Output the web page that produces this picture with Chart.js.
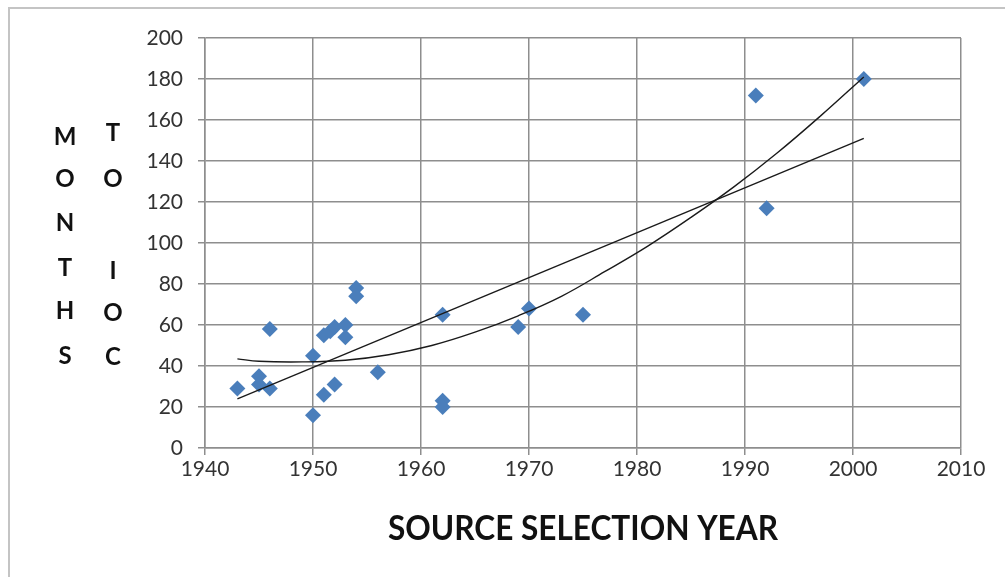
<!DOCTYPE html>
<html>
<head>
<meta charset="utf-8">
<script src="https://cdn.jsdelivr.net/npm/chart.js@4/dist/chart.umd.min.js"></script>
<style>
  html, body { margin: 0; padding: 0; background: #ffffff; }
  #wrap { width: 1005px; height: 577px; }
</style>
</head>
<body>
<div id="wrap"><canvas id="grafico" width="1005" height="577"></canvas></div>
<script>
// datos
const years  = [1943, 1945, 1945, 1946, 1946, 1950, 1950, 1951, 1951, 1951.6, 1952, 1952, 1953, 1953, 1954, 1954, 1956, 1962, 1962, 1962, 1969, 1970, 1975, 1991, 1992, 2001];
const months = [29,   35,   31,   29,   58,   45,   16,   55,   26,   57,     59,   31,   60,   54,   78,   74,   37,   65,   23,   20,   59,   68,   65,   172,  117,  180];

// lineas de tendencia
const linYears  = [1943, 2001];
const linValues = [24, 151];
const polyYears  = [1943, 1945, 1949, 1953, 1957, 1961, 1965, 1969, 1973, 1977, 1981, 1985, 1989, 1993, 1997, 2001];
const polyValues = [43.5, 42.3, 42, 42.8, 45.5, 50, 56.5, 64.5, 74, 86, 98.5, 112.5, 127.5, 144, 162, 181];

const xTicks = [1940, 1950, 1960, 1970, 1980, 1990, 2000, 2010];
const yTicks = [0, 20, 40, 60, 80, 100, 120, 140, 160, 180, 200];

const yLetters1 = ["M", "O", "N", "T", "H", "S"];
const yLetters2 = ["T", "O", "", "I", "O", "C"];
const xTitle = "SOURCE SELECTION YEAR";

function toPoints(xs, ys) {
    return xs.map((x, i) => ({ x: x, y: ys[i] }));
}

const gridColor = "#8e8e8e";
const tickColor = "#333333";

// fondo, marco y titulos
const extras = {
    id: "extras",
    beforeDraw(chart) {
        const c = chart.ctx;
        c.save();
        c.fillStyle = "#ffffff";
        c.fillRect(0, 0, chart.width, chart.height);
        c.strokeStyle = "#c4c4c4";
        c.lineWidth = 2;
        c.beginPath();
        c.moveTo(9, 577);
        c.lineTo(9, 8);
        c.lineTo(1005, 8);
        c.stroke();
        c.restore();
    },
    afterDraw(chart) {
        const c = chart.ctx;
        c.save();
        c.fillStyle = "#111111";
        c.textAlign = "center";
        c.textBaseline = "middle";
        c.font = "bold 24px Lato";
        const ys1 = [137, 179, 223, 268, 311, 356];
        const ys2 = [133, 179, 223, 271, 313, 357];
        yLetters1.forEach((t, i) => c.fillText(t, 65, ys1[i]));
        yLetters2.forEach((t, i) => c.fillText(t, 113, ys2[i]));

        // titulo eje x, ajustado al ancho
        c.font = "bold 35px Lato";
        const w = c.measureText(xTitle).width;
        const sx = 390 / w;
        c.translate(583, 529);
        c.scale(sx, 1);
        c.fillText(xTitle, 0, 0);
        c.restore();
    }
};

const ctx = document.getElementById("grafico");

let grafico = new Chart(ctx, {
    type: "scatter",
    data: {
        datasets: [
            {
                label: "lineal",
                data: toPoints(linYears, linValues),
                showLine: true,
                borderColor: "#1a1a1a",
                borderWidth: 1.4,
                pointRadius: 0,
                order: 0
            },
            {
                label: "polinomica",
                data: toPoints(polyYears, polyValues),
                showLine: true,
                borderColor: "#1a1a1a",
                borderWidth: 1.4,
                pointRadius: 0,
                tension: 0.4,
                order: 0
            },
            {
                label: "meses",
                data: toPoints(years, months),
                pointStyle: "rectRot",
                pointRadius: 8,
                pointBackgroundColor: "#4a7ebb",
                pointBorderColor: "#4a7ebb",
                pointBorderWidth: 0,
                order: 1
            }
        ]
    },
    options: {
        responsive: false,
        animation: false,
        events: [],
        layout: { padding: { top: 38, right: 44, left: 0, bottom: 0 } },
        plugins: {
            legend: { display: false },
            tooltip: { enabled: false }
        },
        scales: {
            x: {
                type: "linear",
                min: 1940,
                max: 2010,
                afterBuildTicks(scale) { scale.ticks = xTicks.map(v => ({ value: v })); },
                afterFit(scale) { scale.height = 577 - 448; },
                grid: { color: gridColor, lineWidth: 1.5, tickLength: 7, tickColor: gridColor },
                border: { color: gridColor, width: 1.5 },
                ticks: {
                    color: tickColor,
                    font: { family: "Lato", size: 21 },
                    padding: 2,
                    maxRotation: 0,
                    callback: (v) => String(v)
                }
            },
            y: {
                type: "linear",
                min: 0,
                max: 200,
                afterBuildTicks(scale) { scale.ticks = yTicks.map(v => ({ value: v })); },
                afterFit(scale) { scale.width = 205; },
                grid: { color: gridColor, lineWidth: 1.5, tickLength: 7, tickColor: gridColor },
                border: { color: gridColor, width: 1.5 },
                ticks: { color: tickColor, font: { family: "Lato", size: 21 }, padding: 15 }
            }
        }
    },
    plugins: [extras]
});
</script>
</body>
</html>
